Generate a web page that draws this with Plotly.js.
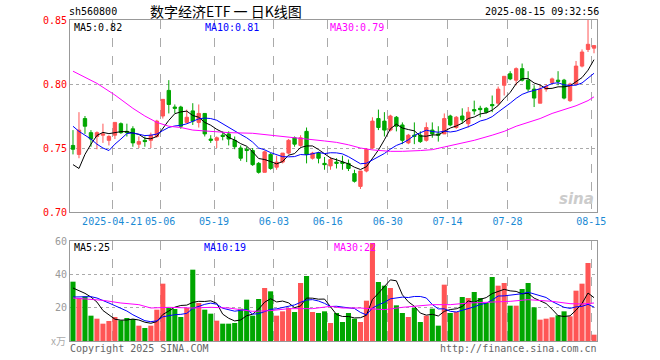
<!DOCTYPE html>
<html><head><meta charset="utf-8">
<script src="https://cdn.plot.ly/plotly-3.0.1.min.js"></script>
<style>html,body{margin:0;padding:0;background:#fff}#c{width:660px;height:360px}</style>
</head><body><div id="c"></div>
<script>
const dates = [
'2025-04-10','2025-04-11','2025-04-14','2025-04-15','2025-04-16','2025-04-17','2025-04-18','2025-04-21','2025-04-22','2025-04-23',
'2025-04-24','2025-04-25','2025-04-28','2025-04-29','2025-04-30','2025-05-06','2025-05-07','2025-05-08','2025-05-09','2025-05-12',
'2025-05-13','2025-05-14','2025-05-15','2025-05-16','2025-05-19','2025-05-20','2025-05-21','2025-05-22','2025-05-23','2025-05-26',
'2025-05-27','2025-05-28','2025-05-29','2025-05-30','2025-06-03','2025-06-04','2025-06-05','2025-06-06','2025-06-09','2025-06-10',
'2025-06-11','2025-06-12','2025-06-13','2025-06-16','2025-06-17','2025-06-18','2025-06-19','2025-06-20','2025-06-23','2025-06-24',
'2025-06-25','2025-06-26','2025-06-27','2025-06-30','2025-07-01','2025-07-02','2025-07-03','2025-07-04','2025-07-07','2025-07-08',
'2025-07-09','2025-07-10','2025-07-11','2025-07-14','2025-07-15','2025-07-16','2025-07-17','2025-07-18','2025-07-21','2025-07-22',
'2025-07-23','2025-07-24','2025-07-25','2025-07-28','2025-07-29','2025-07-30','2025-07-31','2025-08-01','2025-08-04','2025-08-05',
'2025-08-06','2025-08-07','2025-08-08','2025-08-11','2025-08-12','2025-08-13','2025-08-14','2025-08-15'];

const open = [.752,.745,.773,.762,.759,.760,.756,.760,.769,.763,
.765,.753,.756,.756,.759,.775,.795,.782,.782,.770,
.779,.770,.777,.757,.756,.760,.761,.756,.750,.749,
.748,.738,.731,.745,.735,.739,.746,.758,.752,.763,
.742,.746,.738,.736,.739,.739,.738,.730,.720,.732,
.750,.773,.771,.764,.774,.768,.754,.760,.760,.756,
.764,.761,.761,.775,.766,.775,.769,.780,.781,.781,
.784,.785,.799,.808,.803,.812,.803,.796,.785,.796,
.801,.803,.803,.787,.800,.814,.827,.828];
const high = [.764,.778,.775,.764,.763,.769,.760,.770,.770,.769,
.767,.759,.759,.762,.772,.788,.803,.784,.783,.780,
.785,.784,.777,.760,.759,.763,.763,.759,.752,.751,
.750,.739,.748,.746,.744,.746,.757,.759,.760,.766,
.747,.747,.743,.743,.742,.744,.741,.733,.732,.750,
.774,.780,.778,.776,.775,.770,.761,.770,.763,.770,
.770,.767,.777,.776,.775,.781,.782,.787,.783,.782,
.791,.798,.806,.810,.813,.816,.810,.799,.799,.800,
.805,.810,.804,.801,.818,.827,.850,.830];
const low = [.745,.742,.761,.751,.749,.754,.752,.757,.761,.759,
.751,.750,.751,.750,.758,.773,.777,.777,.765,.769,
.768,.766,.759,.754,.750,.756,.752,.749,.740,.739,
.736,.730,.731,.733,.733,.738,.745,.751,.751,.738,
.741,.738,.733,.733,.734,.733,.732,.723,.718,.731,
.749,.764,.759,.763,.763,.753,.753,.753,.754,.755,
.758,.755,.761,.767,.765,.769,.766,.776,.774,.777,
.778,.783,.791,.803,.799,.802,.794,.782,.785,.794,
.800,.799,.788,.786,.799,.813,.825,.824];
const close = [.749,.764,.767,.757,.762,.761,.759,.770,.762,.762,
.754,.755,.755,.760,.771,.788,.784,.781,.767,.774,
.771,.777,.761,.756,.758,.759,.757,.751,.742,.748,
.737,.731,.747,.734,.739,.746,.756,.753,.758,.745,
.746,.742,.737,.741,.738,.738,.734,.724,.732,.749,
.771,.766,.764,.775,.767,.756,.760,.759,.755,.766,
.761,.760,.773,.768,.774,.772,.778,.779,.780,.778,
.783,.796,.806,.804,.812,.803,.796,.789,.796,.798,
.804,.802,.789,.800,.814,.825,.831,.830];
const volume = [35.6,25.8,26.8,15.2,13.4,10.4,12.0,14.4,12.4,13.8,
13.2,9.2,7.8,9.2,18.8,34.4,19.8,19.2,14.4,19.8,
42.8,22.8,18.8,16.4,12.2,10.4,10.4,10.8,19.4,24.8,
15.2,25.2,31.8,29.8,15.2,17.8,19.8,17.4,34.8,39.0,
17.4,16.8,17.8,10.8,16.8,11.4,16.8,13.4,11.4,24.2,
58.8,35.4,33.2,31.8,21.4,16.8,14.4,19.8,11.4,15.2,
19.4,9.2,33.8,16.8,17.4,26.4,25.8,29.4,25.8,22.8,
38.4,33.2,34.8,21.2,21.2,31.2,34.8,20.2,12.8,13.4,
14.2,15.4,17.8,14.8,30.2,34.4,46.8,3.8];

const ma5 = [0.737,0.734,0.745,0.753,0.7598,0.7622,0.7612,0.7618,0.7628,0.7628,
0.7614,0.7606,0.7576,0.7572,0.759,0.7658,0.7716,0.7768,0.7782,0.7788,
0.7754,0.774,0.770,0.7678,0.7646,0.7622,0.7582,0.7562,0.7534,0.7514,
0.747,0.7418,0.741,0.7394,0.7376,0.7394,0.7444,0.7456,0.7504,0.7516,
0.7516,0.7488,0.7456,0.7422,0.7408,0.7392,0.7376,0.735,0.7332,0.7354,
0.742,0.7484,0.7564,0.765,0.7686,0.7656,0.7644,0.7634,0.7594,0.7592,
0.7602,0.7602,0.763,0.7656,0.7672,0.7694,0.773,0.7742,0.7766,0.7774,
0.7796,0.7832,0.7886,0.7934,0.8002,0.8042,0.8042,0.8008,0.7992,0.7964,
0.7966,0.7978,0.7978,0.7986,0.8018,0.805,0.8108,0.819];
const ma10 = [0.767,0.763,0.760,0.757,0.753,0.750,0.748,0.753,0.757,0.7613,
0.7618,0.7609,0.7597,0.7600,0.7609,0.7636,0.7661,0.7672,0.7677,0.7689,
0.7706,0.7728,0.7734,0.7730,0.7717,0.7688,0.7661,0.7631,0.7606,0.7580,
0.7546,0.7500,0.7486,0.7464,0.7445,0.7432,0.7431,0.7433,0.7449,0.7446,
0.7455,0.7466,0.7456,0.7463,0.7462,0.7454,0.7432,0.7403,0.7377,0.7381,
0.7406,0.7430,0.7457,0.7491,0.7520,0.7538,0.7564,0.7599,0.7622,0.7639,
0.7629,0.7623,0.7632,0.7625,0.7632,0.7648,0.7666,0.7686,0.7711,0.7723,
0.7745,0.7781,0.7814,0.7850,0.7888,0.7919,0.7937,0.7947,0.7963,0.7983,
0.8004,0.8010,0.7993,0.7989,0.7991,0.8008,0.8043,0.8084];
const ma30Dates = ['2025-04-10','2025-04-16','2025-04-21','2025-04-24','2025-04-28','2025-04-30','2025-05-07','2025-05-09','2025-05-13','2025-05-16',
'2025-05-21','2025-05-27','2025-05-30','2025-06-05','2025-06-10','2025-06-13','2025-06-17','2025-06-19','2025-06-23','2025-06-25',
'2025-06-30','2025-07-02','2025-07-07','2025-07-09','2025-07-11','2025-07-15','2025-07-18','2025-07-23','2025-07-25','2025-07-29',
'2025-07-31','2025-08-04','2025-08-06','2025-08-08','2025-08-12','2025-08-14','2025-08-15'];
const ma30 = [0.810,0.8005,0.7914,0.781,0.775,0.770,0.767,0.766,0.764,0.763,
0.762,0.7615,0.760,0.759,0.7575,0.7555,0.7544,0.7525,0.750,0.7485,
0.7474,0.7474,0.748,0.7487,0.7508,0.753,0.756,0.760,0.763,0.767,
0.770,0.773,0.777,0.780,0.783,0.787,0.790];

const volMa5 = [31.8,30.2,28.6,26.4,23.36,18.32,15.56,13.08,12.52,12.6,
13.16,12.6,11.28,10.64,11.64,15.88,18.0,20.28,21.32,21.52,
23.2,23.8,23.72,24.12,22.6,16.12,13.64,12.04,12.64,15.16,
16.12,19.08,23.28,25.36,23.44,23.96,22.88,20.0,21.0,25.76,
25.68,25.08,25.16,20.36,15.92,14.72,14.72,13.84,13.96,15.44,
24.92,28.64,32.6,36.68,36.12,27.72,23.52,20.84,16.76,15.52,
16.04,15.0,17.8,18.88,19.32,20.72,24.04,23.16,24.96,26.04,
28.44,29.92,31.0,30.08,29.76,28.32,28.64,25.72,24.04,22.48,
19.08,15.2,14.72,15.12,18.48,22.52,28.8,26.0];
const volMa10 = [26.4,26.6,26.8,26.6,25.8,24.5,22.8,21.2,19.6,17.98,
15.74,14.08,12.18,11.58,12.12,14.52,15.3,15.78,15.98,16.58,
19.54,20.9,22.0,22.72,22.06,19.66,18.72,17.88,18.38,18.88,
16.12,16.36,17.66,19.0,19.3,20.04,20.98,21.64,23.18,24.6,
24.82,23.98,22.58,20.68,20.84,20.2,19.9,19.5,17.16,15.68,
19.82,21.68,23.22,25.32,25.78,26.32,26.08,26.72,26.72,25.82,
21.88,19.26,19.32,17.82,17.42,18.38,19.52,20.48,21.92,22.68,
24.58,26.98,27.08,27.52,27.9,28.38,29.28,28.36,27.06,26.12,
23.7,21.92,20.22,19.58,20.48,20.8,22.0,20.36];
const volMa30Dates = ['2025-04-10','2025-04-17','2025-04-22','2025-04-25','2025-04-29','2025-05-07','2025-05-13','2025-05-16','2025-05-21','2025-05-27',
'2025-05-30','2025-06-05','2025-06-11','2025-06-16','2025-06-18','2025-06-23','2025-06-27','2025-07-02','2025-07-09','2025-07-14',
'2025-07-17','2025-07-23','2025-07-28','2025-07-31','2025-08-06','2025-08-11','2025-08-13','2025-08-15'];
const volMa30 = [25.8,24.4,22.8,21.8,19.8,20.2,19.8,20.2,19.8,17.8,
18.2,19.4,19.4,20.8,19.8,19.8,18.8,20.2,21.8,21.8,
22.8,23.4,23.8,24.8,23.8,22.4,22.2,22.8];

const tickDates = ['2025-04-21','2025-05-06','2025-05-19','2025-06-03','2025-06-16','2025-06-30','2025-07-14','2025-07-28','2025-08-15'];
const tickLabels = ['2025-04-21','05-06','05-19','06-03','06-16','06-30','07-14','07-28','08-15'];
const priceTicks = [0.70,0.75,0.80,0.85];
const volTicks = [20,40,60];

const RED = '#ff5555', GREEN = '#00a600';
const idx = dates.map((d,i)=>i);
const pos = d => dates.indexOf(d);
const mono = 'DejaVu Sans Mono, Liberation Mono, monospace';
const tv = tickDates.map(d => pos(d) - 0.45);

const traces = [
 {type:'candlestick', x:idx, open:open, high:high, low:low, close:close,
  xaxis:'x', yaxis:'y', whiskerwidth:0, hoverinfo:'skip',
  increasing:{line:{color:RED,width:1}, fillcolor:RED},
  decreasing:{line:{color:GREEN,width:1}, fillcolor:GREEN}},
 {type:'scatter', mode:'lines', x:idx, y:ma5, xaxis:'x', yaxis:'y', line:{color:'#000',width:1}, hoverinfo:'skip'},
 {type:'scatter', mode:'lines', x:idx, y:ma10, xaxis:'x', yaxis:'y', line:{color:'#0000ff',width:1}, hoverinfo:'skip'},
 {type:'scatter', mode:'lines', x:ma30Dates.map(pos), y:ma30, xaxis:'x', yaxis:'y', line:{color:'#ff00ff',width:1}, hoverinfo:'skip'},
 {type:'bar', x:idx, y:volume, xaxis:'x2', yaxis:'y2', hoverinfo:'skip',
  marker:{color: idx.map(i => close[i] >= open[i] ? RED : GREEN), line:{width:0}}},
 {type:'scatter', mode:'lines', x:idx, y:volMa5, xaxis:'x2', yaxis:'y2', line:{color:'#000',width:1}, hoverinfo:'skip'},
 {type:'scatter', mode:'lines', x:idx, y:volMa10, xaxis:'x2', yaxis:'y2', line:{color:'#0000ff',width:1}, hoverinfo:'skip'},
 {type:'scatter', mode:'lines', x:volMa30Dates.map(pos), y:volMa30, xaxis:'x2', yaxis:'y2', line:{color:'#ff00ff',width:1}, hoverinfo:'skip'}
];

const W=660, H=360;
const px = v => v/W, py = v => 1 - v/H;
const xdom = [px(70), px(597)];
const xbase = {domain:xdom, range:[-0.5, dates.length-0.5], tickmode:'array', tickvals:tv, ticktext:tickLabels,
  showgrid:true, gridcolor:'#aaaaaa', griddash:'dash', gridwidth:1, zeroline:false,
  showline:true, linecolor:'#999999', linewidth:1, mirror:true, ticks:'', fixedrange:true};

const ann = (text, x, y, color, xanchor, size, family) => ({text, x, y, xref:'paper', yref:'paper',
  xanchor:xanchor||'left', yanchor:'middle', showarrow:false, borderpad:0, font:{family:family||mono, size:size||10, color}});

const layout = {
  width:W, height:H, margin:{l:0,r:0,t:0,b:0}, paper_bgcolor:'#fff', plot_bgcolor:'#fff',
  showlegend:false, bargap:0.15, boxgap:0.2, hovermode:false,
  xaxis: Object.assign({}, xbase, {anchor:'y', rangeslider:{visible:false}, showticklabels:true,
    tickfont:{family:mono, size:10, color:'#1a8ad4'}}),
  yaxis: {domain:[py(212), py(20)], anchor:'x', range:[0.70,0.85], tickmode:'array', tickvals:priceTicks,
    tickformat:'.2f', tickfont:{family:mono, size:10, color:'#ff0000'},
    showgrid:true, gridcolor:'#aaaaaa', griddash:'dot', zeroline:false,
    showline:true, linecolor:'#999999', linewidth:1, mirror:true, ticks:'', fixedrange:true},
  xaxis2: Object.assign({}, xbase, {anchor:'y2', showticklabels:false}),
  yaxis2: {domain:[py(341), py(241)], anchor:'x2', range:[0,60], tickmode:'array', tickvals:volTicks,
    tickfont:{family:mono, size:10, color:'#999999'},
    showgrid:true, gridcolor:'#aaaaaa', griddash:'dot', zeroline:false,
    showline:true, linecolor:'#999999', linewidth:1, mirror:true, ticks:'', fixedrange:true},
  annotations: [
    ann('sh560800', px(68), py(12), '#000'),
    ann('数字经济ETF 一 日K线图', px(226), py(11), '#000', 'center', 14, 'Noto Sans CJK SC'),
    ann('2025-08-15 09:32:56', px(600), py(12), '#000', 'right'),
    ann('MA5:0.82', px(73), py(28), '#000'),
    ann('MA10:0.81', px(204), py(28), '#0000ff'),
    ann('MA30:0.79', px(329), py(28), '#ff00ff'),
    ann('MA5:25', px(73), py(247), '#000'),
    ann('MA10:19', px(203), py(247), '#0000ff'),
    ann('MA30:22', px(333), py(247), '#ff00ff'),
    ann('x万', px(67), py(340), '#aaaaaa', 'right', 10, 'Noto Sans CJK SC'),
    ann('Copyright 2025 SINA.COM', px(69), py(348), '#666666'),
    ann('http://finance.sina.com.cn', px(598), py(348), '#666666', 'right'),
    {text:'<b><i>sina</i></b>', x:px(596), y:py(199), xref:'paper', yref:'paper', xanchor:'right', yanchor:'middle',
     showarrow:false, font:{family:'DejaVu Sans', size:15, color:'#cccccc'}}
  ]
};

Plotly.newPlot('c', traces, layout, {staticPlot:true, displayModeBar:false});
</script>
</body></html>
